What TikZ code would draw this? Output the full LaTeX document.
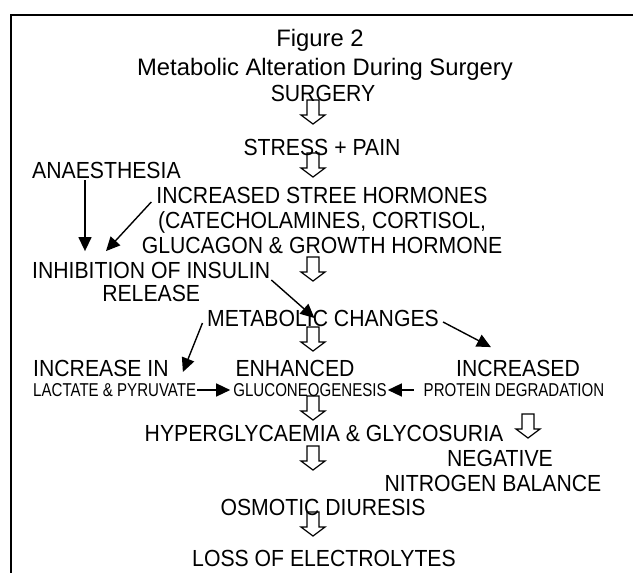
\documentclass[tikz,border=0pt]{standalone}
\usepackage{fontspec}
\setmainfont{Liberation Sans}
\newfontfamily\mainsf[FakeStretch=0.91]{Liberation Sans}
\newfontfamily\narrowsf[FakeStretch=0.81]{Liberation Sans}
\usetikzlibrary{arrows.meta,positioning,calc}
\newcommand{\figbig}{\mainsf\fontsize{23.3}{25}\selectfont}
\newcommand{\figtitle}{\fontsize{23.8}{25}\selectfont}
\newcommand{\figsmall}{\narrowsf\fontsize{18.6}{21}\selectfont}
\tikzset{
  txt/.style={inner sep=0pt, text height=16.7pt, text depth=0pt, font=\figbig},
  titletxt/.style={inner sep=0pt, text height=17pt, text depth=0pt, font=\figtitle},
  smalltxt/.style={inner sep=0pt, text height=13.3pt, text depth=0pt, font=\figsmall},
  line/.style={-{Triangle[length=14pt,width=13pt]}, line width=1.4pt},
  hollow/.pic={\draw[line width=1.2pt, line join=miter] (-6,0) -- (6,0) -- (6,15) -- (12,15) -- (0,24) -- (-12,15) -- (-6,15) -- cycle;}
}
\begin{document}
\begin{tikzpicture}[x=1pt, y=-1pt, node distance=8.3pt]
  \useasboundingbox (0,0) rectangle (633,573);
  \draw[line width=1.6pt] (11,573) |- (633,15);
  % title and main column
  \node[titletxt, anchor=base] (fig) at (320,46) {Figure 2};
  \node[titletxt, anchor=base] (title) at (325,75) {Metabolic Alteration During Surgery};
  \node[txt, anchor=base] (surg) at (323,101) {SURGERY};
  \node[txt, anchor=base] (stress) at (322,155) {STRESS + PAIN};
  \node[txt, anchor=base west] (anaes) at (32,178) {ANAESTHESIA};
  \node[txt, anchor=base] (hor1) at (322,203) {INCREASED STREE HORMONES};
  \node[txt, below=of hor1] (hor2) {(CATECHOLAMINES, CORTISOL,};
  \node[txt, below=of hor2] (hor3) {GLUCAGON \& GROWTH HORMONE};
  \node[txt, anchor=base west] (inhib) at (32,278) {INHIBITION OF INSULIN};
  \node[txt, below=6pt of inhib] (rel) {RELEASE};
  \node[txt, anchor=base] (metab) at (323,326) {METABOLIC CHANGES};
  \node[txt, anchor=base west] (incr) at (33,376) {INCREASE IN};
  \node[txt, anchor=base] (enh) at (295,376) {ENHANCED};
  \node[txt, anchor=base] (incpr) at (518,376) {INCREASED};
  \node[smalltxt, anchor=base west] (lact) at (33,396) {LACTATE \& PYRUVATE};
  \node[smalltxt, anchor=base] (gluco) at (310,396) {GLUCONEOGENESIS};
  \node[smalltxt, anchor=base] (prot) at (514,396) {PROTEIN DEGRADATION};
  \node[txt, anchor=base] (hyper) at (324,441) {HYPERGLYCAEMIA \& GLYCOSURIA};
  \node[txt, anchor=base] (neg) at (500,466) {NEGATIVE};
  \node[txt, anchor=base] (nitro) at (493,491) {NITROGEN BALANCE};
  \node[txt, anchor=base] (osm) at (323,515) {OSMOTIC DIURESIS};
  \node[txt, anchor=base] (loss) at (324,566) {LOSS OF ELECTROLYTES};
  % hollow arrows
  \pic (h1) at (313,100) {hollow};
  \pic (h2) at (313,153) {hollow};
  \pic (h3) at (313,257) {hollow};
  \pic (h4) at (313,327) {hollow};
  \pic (h5) at (313,396) {hollow};
  \pic (h6) at (528,414) {hollow};
  \pic (h7) at (313,446) {hollow};
  \pic (h8) at (313,512) {hollow};
  % thin arrows
  \draw[line] ($(anaes.base west)+(53,2)$) -- ($(inhib.north west)+(53,-10)$);
  \draw[line] ($(hor1.base west)+(-5,-1)$) -- ($(inhib.north west)+(74,-10)$);
  \draw[line] ($(inhib.base east)+(1,2)$) -- ($(metab.base west)+(107.5,-8)$);
  \draw[line] ($(metab.base west)+(-4.5,-3)$) -- ($(incr.base east)+(14,-4)$);
  \draw[line] ($(metab.base east)+(4,-4)$) -- ($(incpr.north west)+(35,-12)$);
  \draw[line] ($(lact.base east)+(1,-6)$) -- ($(gluco.base west)+(-3,-6)$);
  \draw[line] ($(prot.base west)+(-10,-6)$) -- ($(gluco.base east)+(1,-6)$);
\end{tikzpicture}
\end{document}
